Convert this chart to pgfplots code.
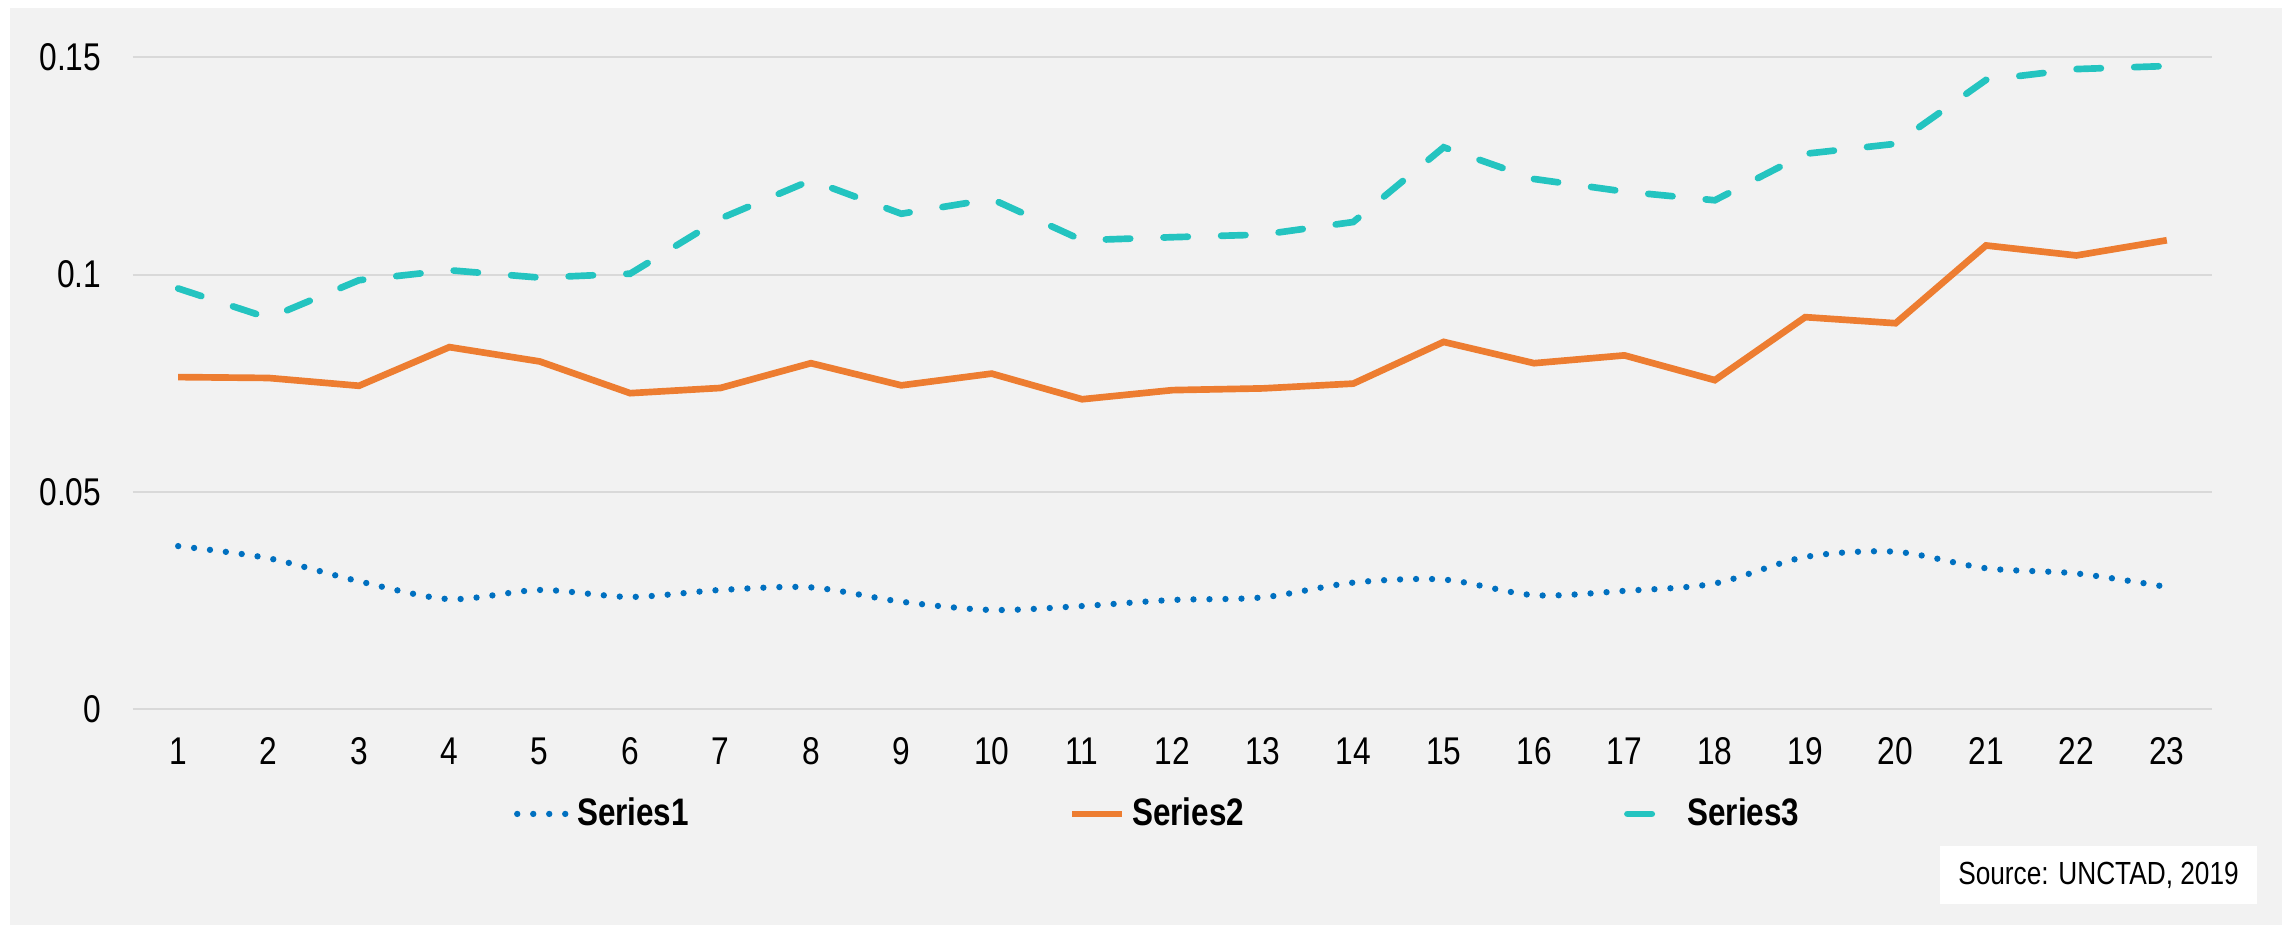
\documentclass[border=0pt]{standalone}
\usepackage{fontspec}
\setmainfont{Liberation Sans}[FakeStretch=0.82]
\usepackage{pgfplots}
\pgfplotsset{compat=1.18}
\definecolor{bgc}{HTML}{F2F2F2}
\definecolor{gridc}{HTML}{D9D9D9}
\definecolor{sone}{HTML}{0070C0}
\definecolor{stwo}{HTML}{ED7D31}
\definecolor{sthree}{HTML}{24C4C0}
\begin{document}
\begin{tikzpicture}[x=0.3pt,y=0.3pt]
\path[use as bounding box, fill=white] (0,0) rectangle (2292,925);
\fill[bgc] (10,0) rectangle (2282,917);
\begin{axis}[
  at={(39.9pt,64.8pt)}, anchor=south west,
  scale only axis, width=623.7pt, height=195.5pt,
  xmin=0.5, xmax=23.5, ymin=0, ymax=0.15,
  clip=false,
  axis line style={draw=none},
  major tick length=0pt,
  tick style={draw=none},
  ymajorgrids, grid style={gridc, line width=0.6pt},
  xtick={1,2,3,4,5,6,7,8,9,10,11,12,13,14,15,16,17,18,19,20,21,22,23},
  xticklabels={1,2,3,4,5,6,7,8,9,10,11,12,13,14,15,16,17,18,19,20,21,22,23},
  ytick={0,0.05,0.1,0.15},
  yticklabels={0,0.05,0.1,0.15},
  tick label style={font=\fontsize{11.6}{13}\selectfont, text=black},
  yticklabel style={xshift=-6pt},
  xticklabel style={yshift=-5pt},
  legend columns=3,
  legend cell align=left,
  legend style={draw=none, fill=none, at={(0.494,-0.161)}, anchor=center,
    font=\bfseries\fontsize{11.5}{13}\selectfont,
    /tikz/every even column/.append style={column sep=112pt}},
  legend image code/.code={\draw[#1] (0pt,0pt) -- (15pt,0pt);},
]
\addplot[sone, line width=1.9pt, line cap=round, dash pattern=on 0pt off 4.8pt, smooth] coordinates {
(1,0.0375)(2,0.0347)(3,0.0294)(4,0.0253)(5,0.0274)(6,0.0258)(7,0.0274)(8,0.0280)(9,0.0247)(10,0.0228)(11,0.0237)(12,0.0251)(13,0.0257)(14,0.0291)(15,0.0298)(16,0.0262)(17,0.0272)(18,0.0289)(19,0.0350)(20,0.0362)(21,0.0324)(22,0.0312)(23,0.0281)};
\addlegendentry{Series1}
\addplot[stwo, line width=2pt] coordinates {
(1,0.0764)(2,0.0762)(3,0.0744)(4,0.0833)(5,0.0800)(6,0.0727)(7,0.0739)(8,0.0796)(9,0.0745)(10,0.0772)(11,0.0713)(12,0.0734)(13,0.0738)(14,0.0749)(15,0.0845)(16,0.0796)(17,0.0814)(18,0.0757)(19,0.0902)(20,0.0888)(21,0.1067)(22,0.1044)(23,0.1079)};
\addlegendentry{Series2}
\addplot[sthree, line width=2pt, line cap=round, dash pattern=on 7.3pt off 10pt] coordinates {
(1,0.0968)(2,0.0900)(3,0.0987)(4,0.1010)(5,0.0993)(6,0.1002)(7,0.1129)(8,0.1217)(9,0.1140)(10,0.1174)(11,0.1079)(12,0.1086)(13,0.1092)(14,0.1121)(15,0.1293)(16,0.1220)(17,0.1191)(18,0.1171)(19,0.1278)(20,0.1301)(21,0.1448)(22,0.1473)(23,0.1480)};
\addlegendentry{Series3}
\end{axis}
\fill[white] (1940,21) rectangle (2257,79);
\node[font=\fontsize{9.6}{11}\selectfont, text=black] at (2098.5,50) {Source: UNCTAD, 2019};
\end{tikzpicture}
\end{document}
